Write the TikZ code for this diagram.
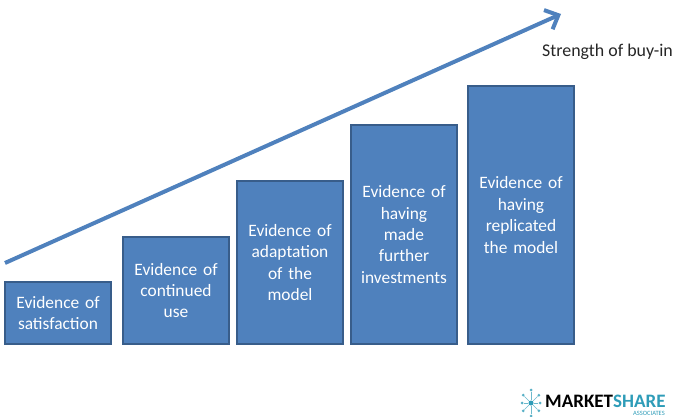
\documentclass[tikz,border=0pt]{standalone}
\usepackage{fontspec}
\usepackage{xcolor}
\usepackage{tikz}
\setmainfont{Carlito}
\usetikzlibrary{positioning}
\usetikzlibrary{arrows.meta}
\definecolor{boxblue}{HTML}{4F81BD}
\definecolor{boxedge}{HTML}{385D8A}
\definecolor{logoteal}{HTML}{2E9CB8}
\tikzset {
  % evidence steps
  main/.style = {draw=boxedge, fill=boxblue, line width=1.5pt, outer sep=0pt, inner sep=0pt,
    minimum width=106pt, anchor=south west, align=center, text width=100pt,
    text=white, font=\fontsize{17.4}{21.4}\selectfont},
  % rising arrow
  rising/.style={boxblue, line width=4pt, -{Straight Barb[length=11pt, width=21pt, line width=4pt]}},
  % logo star
  spoke/.style={logoteal!70, line width=0.6pt},
  dot/.style={circle, fill=logoteal!80, inner sep=0pt, minimum size=3pt},
}
\begin{document}
\begin{tikzpicture}[x=1pt, y=1pt]
      \useasboundingbox (0,0) rectangle (673,416);

      \node[main, minimum height=62pt] (1) at (5,72) {Evidence of\\satisfaction};

      \node[main, minimum height=107pt] (2) [right=12pt of 1.south east, anchor=south west] {Evidence of\\continued\\use};

      \node[main, minimum height=163pt] (3) [right=8pt of 2.south east, anchor=south west] {Evidence of\\adaptation\\of the\\model};

      \node[main, minimum height=219pt] (4) [right=8pt of 3.south east, anchor=south west] {Evidence of\\having\\made\\further\\investments};

      \node[main, minimum height=258pt] (5) [right=11pt of 4.south east, anchor=south west] {Evidence of\\having\\replicated\\the model};

      \coordinate (a) at (5,153);
      \coordinate (b) at (561,402);
      \draw[rising] (a) -- (b);

      \node[anchor=west, inner sep=0pt, text=black!85, font=\fontsize{17.9}{21}\selectfont] (buyin) at (542,364) {Strength of buy-in};

      % logo
      \node[dot, minimum size=5pt, fill=logoteal] (hub) at (531,13) {};
      \foreach \a/\r in {0/9, 45/11, 90/13, 135/11, 180/9, 225/11, 270/13, 315/11} {
        \node[dot, shift={(\a:\r)}] (d\a) at (hub) {};
        \draw[spoke] (hub) -- (d\a);
      }
      \node[anchor=base west, inner sep=0pt, font=\bfseries\fontsize{19}{19}\selectfont] (market) at (545,9) {MARKET\textcolor{logoteal}{SHARE}};
      \node[anchor=base east, inner sep=0pt, text=logoteal, font=\fontsize{6.5}{6.5}\selectfont] (assoc) at (665,0.8) {ASSOCIATES};
    \end{tikzpicture}
\end{document}
